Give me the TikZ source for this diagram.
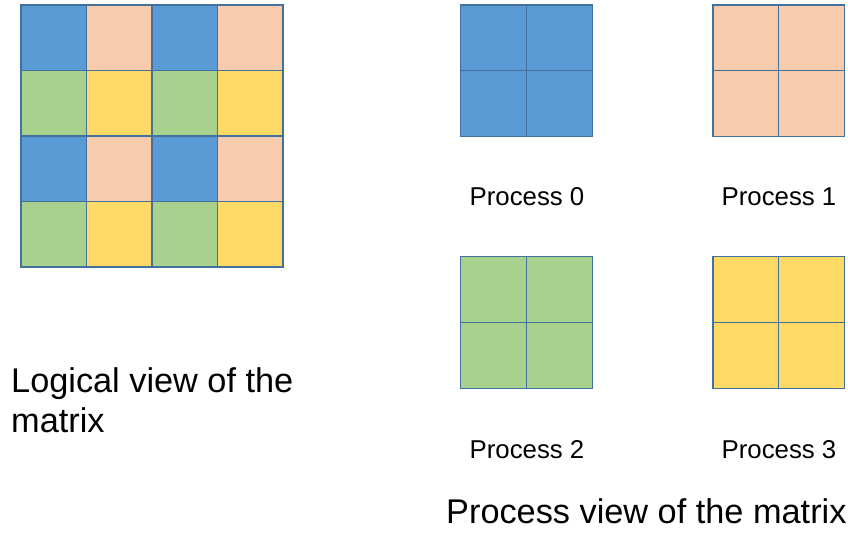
\documentclass[tikz,border=0pt]{standalone}
\usepackage{fontspec}
\setmainfont{Liberation Sans}
\definecolor{cblue}{HTML}{5B9BD5}
\definecolor{cpeach}{HTML}{F8CBAD}
\definecolor{cgreen}{HTML}{A9D18E}
\definecolor{cyellow}{HTML}{FFD966}
\definecolor{edge}{HTML}{41719C}
\tikzset{
  cell/.style={inner sep=0pt, minimum size=#1, anchor=north west, outer sep=0pt},
  gridline/.style={draw=edge, line width=1.3pt},
  biglabel/.style={inner sep=0pt, anchor=base west, font=\fontsize{34.3}{40}\selectfont},
  smalllabel/.style={inner sep=0pt, anchor=base, font=\fontsize{25.8}{30}\selectfont},
}
\begin{document}
\begin{tikzpicture}[x=1pt,y=-1pt]
\useasboundingbox (0,0) rectangle (848,533);
% logical view grid
\def\cs{65.5}
\foreach \r in {0,1,2,3}{
  \foreach \c in {0,1,2,3}{
    \pgfmathtruncatemacro{\rp}{mod(\r,2)}
    \pgfmathtruncatemacro{\cp}{mod(\c,2)}
    \ifnum\rp=0
      \ifnum\cp=0 \def\col{cblue}\else\def\col{cpeach}\fi
    \else
      \ifnum\cp=0 \def\col{cgreen}\else\def\col{cyellow}\fi
    \fi
    \node[cell=\cs pt, fill=\col] (L\r\c) at ({21+\c*\cs},{5+\r*\cs}) {};
  }
}
\foreach \i in {0,1,2,3}{
  \draw[gridline] (L0\i.north west) -- (L3\i.south west);
  \draw[gridline] (L\i0.north west) -- (L\i3.north east);
}
\draw[gridline] (L00.north west) rectangle (L33.south east);
% process grids
\def\ps{65.8}
\foreach \name/\x/\y/\col in {P0/460.7/5/cblue, P1/713/5/cpeach, P2/460.7/256.7/cgreen, P3/713/256.7/cyellow}{
  \foreach \r in {0,1}{
    \foreach \c in {0,1}{
      \node[cell=\ps pt, fill=\col] (\name\r\c) at ({\x+\c*\ps},{\y+\r*\ps}) {};
    }
  }
  \draw[gridline] (\name00.north west) rectangle (\name11.south east);
  \draw[gridline] (\name01.north west) -- (\name11.south west);
  \draw[gridline] (\name10.north west) -- (\name11.north east);
}
\node[smalllabel] (t0) at (527,205) {Process 0};
\node[smalllabel] (t1) at (779,205) {Process 1};
\node[smalllabel] (t2) at (527,458) {Process 2};
\node[smalllabel] (t3) at (779,458) {Process 3};
\node[biglabel] (lv1) at (11,392) {Logical view of the};
\node[biglabel] (lv2) at (11,432) {matrix};
\node[biglabel] (pv) at (446,523) {Process view of the matrix};
\end{tikzpicture}
\end{document}
